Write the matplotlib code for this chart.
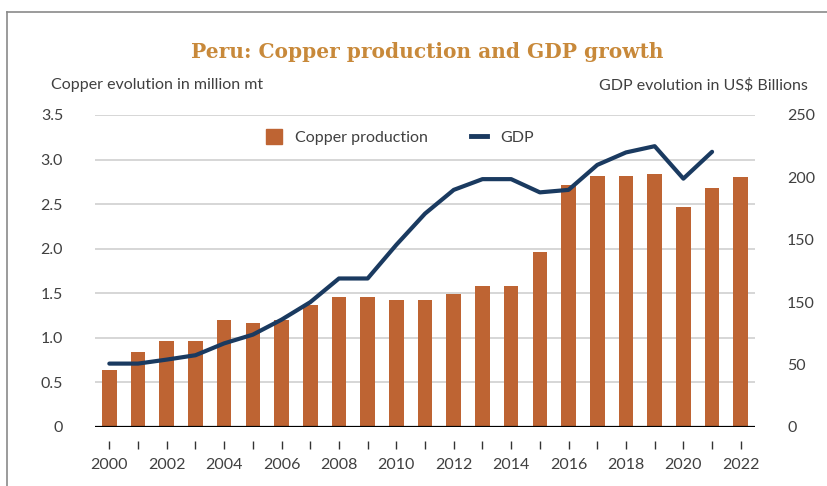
import numpy as np
import matplotlib.pyplot as plt
from matplotlib.lines import Line2D

# Data
years = list(range(2000, 2023))
copper = [0.64, 0.84, 0.965, 0.965, 1.20, 1.17, 1.20, 1.37, 1.46, 1.46,
          1.425, 1.425, 1.49, 1.585, 1.585, 1.965, 2.72, 2.82, 2.82, 2.84,
          2.47, 2.68, 2.80]
gdp_years = list(range(2000, 2022))
gdp = [50.8, 50.8, 54, 57.5, 67, 74, 86, 100, 119, 119,
       146, 171, 190, 198.6, 198.6, 188, 190, 210, 220, 225,
       199, 220.5]
left_ticks = [0, 0.5, 1.0, 1.5, 2.0, 2.5, 3.0, 3.5]
left_labels = ['0', '0.5', '1.0', '1.5', '2.0', '2.5', '3.0', '3.5']
right_ticks = [0, 50, 100, 150, 200, 250]
right_labels = ['0', '50', '150', '150', '200', '250']

BAR_COLOR = '#BE6433'
LINE_COLOR = '#1A3A60'
TEXT_COLOR = '#404040'
TITLE_COLOR = '#C8893A'

plt.rcParams['font.family'] = ['Lato', 'DejaVu Sans']

fig = plt.figure(figsize=(8.28, 4.86), dpi=100)
ax = fig.add_axes([0.1147, 0.1214, 0.7973, 0.642])

x = np.arange(len(years))
ax.bar(x, copper, width=0.51, color=BAR_COLOR, zorder=2)
ax.set_xlim(-0.5, len(years) - 0.5)
ax.set_ylim(0, 3.5)
ax.set_yticks(left_ticks)
ax.set_yticklabels(left_labels)
ax.grid(axis='y', color='#d0d0d0', linewidth=1.2, zorder=0)
ax.set_axisbelow(True)
ax.tick_params(axis='y', length=0, pad=23, labelsize=11.5, labelcolor=TEXT_COLOR)

# x axis: baseline line plus detached tick marks
for side in ['top', 'right', 'left']:
    ax.spines[side].set_visible(False)
ax.spines['bottom'].set_position(('outward', 10))
ax.spines['bottom'].set_visible(False)
ax.axhline(0, color='black', linewidth=1.6, zorder=3)
ax.set_xticks(x)
ax.set_xticklabels([str(y) if y % 2 == 0 else '' for y in years])
ax.tick_params(axis='x', length=6, width=1, color='#333333', pad=6,
               labelsize=11.5, labelcolor=TEXT_COLOR)

ax2 = ax.twinx()
gx = np.array([years.index(y) for y in gdp_years])
ax2.plot(gx, gdp, color=LINE_COLOR, linewidth=3.0, solid_capstyle='round', zorder=4)
ax2.set_ylim(0, 250)
ax2.set_yticks(right_ticks)
ax2.set_yticklabels(right_labels)
ax2.tick_params(axis='y', length=0, pad=23, labelsize=11.5, labelcolor=TEXT_COLOR)
for side in ['top', 'right', 'left', 'bottom']:
    ax2.spines[side].set_visible(False)

handles = [plt.Rectangle((0, 0), 1, 1, color=BAR_COLOR),
           Line2D([0], [0], color=LINE_COLOR, linewidth=3.5)]
ax2.legend(handles, ['Copper production', 'GDP'], loc='upper center',
           bbox_to_anchor=(0.462, 1.0), ncol=2, frameon=False, fontsize=11.5,
           handlelength=1.0, handleheight=1.0, columnspacing=2.7,
           labelcolor=TEXT_COLOR)

fig.text(0.516, 0.893, 'Peru: Copper production and GDP growth',
         ha='center', va='center', fontsize=14.5, fontweight='bold',
         family='DejaVu Serif', color=TITLE_COLOR)
fig.text(0.062, 0.825, 'Copper evolution in million mt', ha='left', va='center',
         fontsize=11.5, color=TEXT_COLOR)
fig.text(0.976, 0.825, 'GDP evolution in US$ Billions', ha='right', va='center',
         fontsize=11.5, color=TEXT_COLOR)

# outer frame (open on right and bottom)
fig.add_artist(Line2D([7 / 828, 1.0], [1 - 12 / 486, 1 - 12 / 486],
                      transform=fig.transFigure, color='#8a8a8a', linewidth=1.2))
fig.add_artist(Line2D([7 / 828, 7 / 828], [0, 1 - 12 / 486],
                      transform=fig.transFigure, color='#8a8a8a', linewidth=1.2))

fig.savefig('out.png', dpi=100)
